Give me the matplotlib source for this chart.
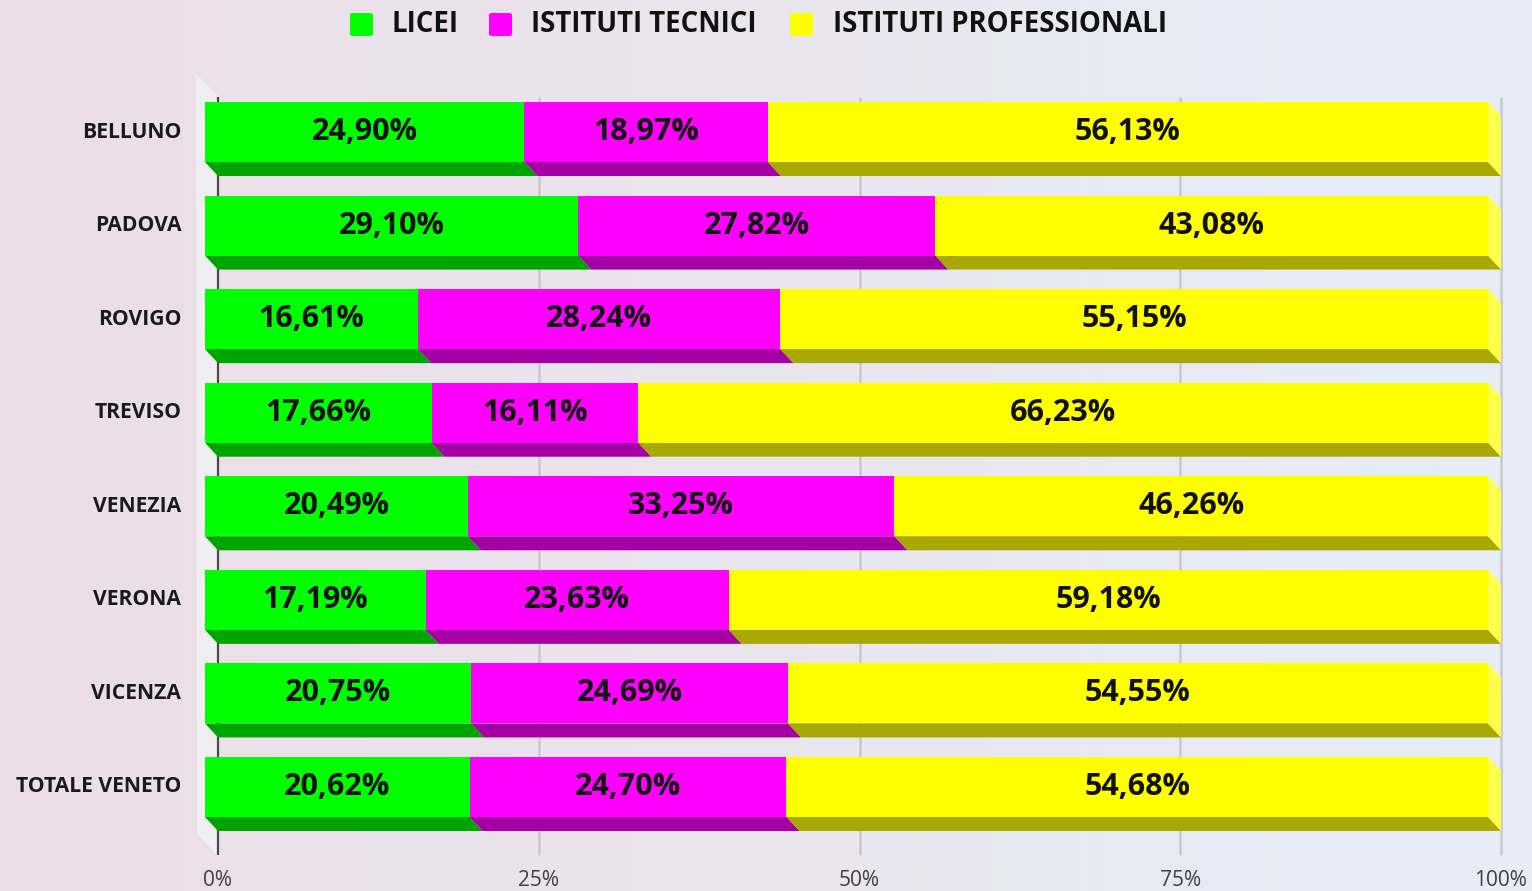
import matplotlib as mpl
mpl.use('Agg')
import matplotlib.pyplot as plt
import numpy as np
from matplotlib.patches import Polygon, FancyBboxPatch

# dati (percentuali per provincia)
province = ['BELLUNO', 'PADOVA', 'ROVIGO', 'TREVISO', 'VENEZIA',
            'VERONA', 'VICENZA', 'TOTALE VENETO']
licei = [24.90, 29.10, 16.61, 17.66, 20.49, 17.19, 20.75, 20.62]
tecnici = [18.97, 27.82, 28.24, 16.11, 33.25, 23.63, 24.69, 24.70]
professionali = [56.13, 43.08, 55.15, 66.23, 46.26, 59.18, 54.55, 54.68]
serie_nomi = ['LICEI', 'ISTITUTI TECNICI', 'ISTITUTI PROFESSIONALI']
tick_valori = [0, 25, 50, 75, 100]

colori = ['#00ff00', '#ff00ff', '#ffff00']
colori_scuri = ['#00a400', '#a400a4', '#a8a800']
colore_lato = '#ffff4a'

W, H = 1532, 891
# scala: pixel per unita'
PX_X = 12.83
PX_Y = 93.57
X0_PX = 205
Y0_PX = 132

# profondita' 3d
DX = 13 / PX_X
DY = 14 / PX_Y
HALF = 30 / PX_Y


def fmt(v):
    return '{0:.2f}%'.format(v).replace('.', ',')


def draw_background(ax, xlim, ylim):
    left = np.array([237, 221, 230]) / 255.0
    right = np.array([230, 238, 248]) / 255.0
    t = np.linspace(0, 1, 256)
    grad = left[None, :] * (1 - t[:, None]) + right[None, :] * t[:, None]
    img = grad[None, :, :]
    ax.imshow(img, extent=[xlim[0], xlim[1], ylim[0], ylim[1]],
              aspect='auto', zorder=0, interpolation='bicubic')


def draw_wall_and_grid(ax):
    # parete sinistra
    wall = Polygon([(-0.70, -0.62), (DX, -0.385), (DX, 7.748), (-0.62, 7.492)],
                   closed=True, facecolor='#efeff1', edgecolor='none', zorder=1)
    ax.add_patch(wall)
    for v in tick_valori:
        col = '#4a4a4a' if v == 0 else '#c9c9cc'
        ax.plot([v + DX, v + DX], [-0.374, 7.727], color=col,
                linewidth=1.8 if v else 1.6, zorder=1.5, solid_capstyle='butt')
        ax.text(v + DX, 8.0, '{0}%'.format(v), ha='center', va='center',
                fontsize=15, color='#404040', family='Open Sans')


def draw_bars(ax):
    data = [licei, tecnici, professionali]
    for i, nome in enumerate(province):
        left = 0.0
        y_top = i - HALF
        y_bot = i + HALF
        for k, serie in enumerate(data):
            v = serie[i]
            right = left + v
            # faccia inferiore
            bottom = Polygon([(left, y_bot), (right, y_bot),
                              (right + DX, y_bot + DY), (left + DX, y_bot + DY)],
                             closed=True, facecolor=colori_scuri[k],
                             edgecolor='none', zorder=2 + k * 0.01)
            ax.add_patch(bottom)
            # faccia frontale
            ax.barh(i, v, left=left, height=2 * HALF, color=colori[k],
                    edgecolor='none', zorder=3)
            ax.text(left + v / 2, i, fmt(v), ha='center', va='center',
                    fontsize=22, fontweight='bold', color='#111111',
                    family='Open Sans', zorder=5)
            left = right
        # lato destro
        side = Polygon([(left, y_top), (left + DX, y_top + DY),
                        (left + DX, y_bot + DY), (left, y_bot)],
                       closed=True, facecolor=colore_lato, edgecolor='none', zorder=3)
        ax.add_patch(side)
        ax.text(-1.85, i, nome, ha='right', va='center', fontsize=15.2,
                fontweight='bold', color='#1a1a1a', family='Open Sans')


def draw_legend(fig):
    quadri = [350, 489, 790]
    testi = [392, 531, 833]
    for k in range(3):
        box = FancyBboxPatch((quadri[k] / W, 1 - 36 / H), 23 / W, 23 / H,
                             boxstyle='round,pad=0,rounding_size=0.002',
                             transform=fig.transFigure, facecolor=colori[k],
                             edgecolor='none')
        fig.patches.append(box)
        fig.text(testi[k] / W, 1 - 25 / H, serie_nomi[k], ha='left', va='center',
                 fontsize=19.8, fontweight='bold', color='#111111',
                 family='Open Sans')


if __name__ == '__main__':
    fig = plt.figure(figsize=(W / 100, H / 100), dpi=100)
    ax = fig.add_axes([0, 0, 1, 1])
    xlim = (-X0_PX / PX_X, (W - X0_PX) / PX_X)
    ylim = ((H - Y0_PX) / PX_Y, -Y0_PX / PX_Y)
    draw_background(ax, xlim, ylim)
    draw_wall_and_grid(ax)
    draw_bars(ax)
    draw_legend(fig)
    ax.set_xlim(xlim)
    ax.set_ylim(ylim)
    ax.axis('off')
    fig.savefig('out.png', dpi=100)
